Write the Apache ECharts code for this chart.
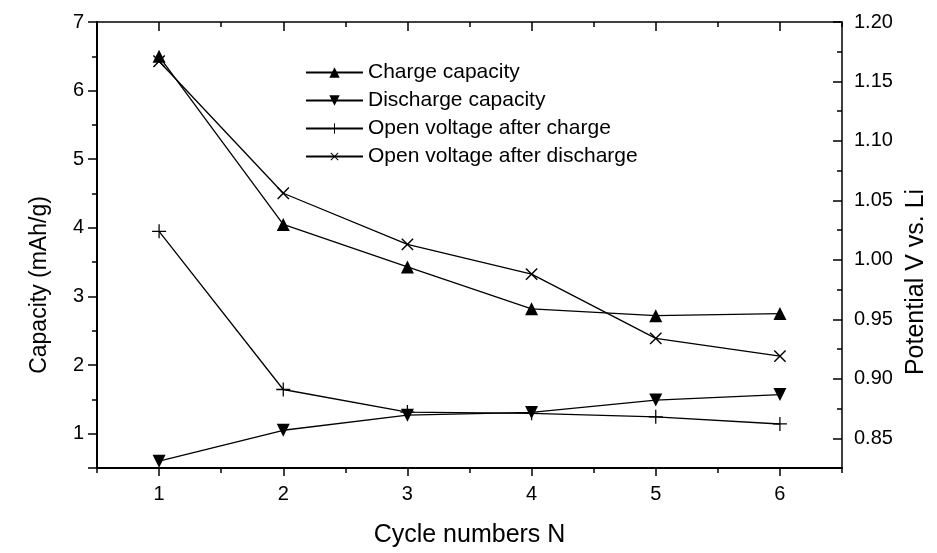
<!DOCTYPE html>
<html>
<head>
<meta charset="utf-8">
<script src="https://cdn.jsdelivr.net/npm/echarts@6/dist/echarts.min.js"></script>
<style>
  html, body { margin: 0; padding: 0; background: #ffffff; }
  #chart { width: 937px; height: 553px; }
</style>
</head>
<body>
<div id="chart"></div>
<script>
// ---- data ----
const cycles = [1, 2, 3, 4, 5, 6];
const chargeCapacity = [6.5, 4.05, 3.43, 2.82, 2.72, 2.75];
const dischargeCapacity = [0.6, 1.05, 1.27, 1.31, 1.49, 1.57];
const voltageAfterCharge = [1.024, 0.891, 0.872, 0.871, 0.868, 0.862];
const voltageAfterDischarge = [1.167, 1.056, 1.013, 0.988, 0.934, 0.919];
const seriesNames = ['Charge capacity', 'Discharge capacity', 'Open voltage after charge', 'Open voltage after discharge'];
const xTickLabels = ['1', '2', '3', '4', '5', '6'];
const leftTickLabels = ['7', '6', '5', '4', '3', '2', '1'];
const rightTickLabels = ['1.20', '1.15', '1.10', '1.05', '1.00', '0.95', '0.90', '0.85'];
const xAxisTitle = 'Cycle numbers N';
const leftAxisTitle = 'Capacity (mAh/g)';
const rightAxisTitle = 'Potential V vs. Li';

// ---- chart ----
const FONT = 'Liberation Sans, Arial, sans-serif';
const BLACK = '#000000';
const plusPath = 'path://M-0.09,-1L0.09,-1L0.09,1L-0.09,1ZM-1,-0.09L1,-0.09L1,0.09L-1,0.09Z';

function pairs(ys) { return cycles.map((c, i) => [c, ys[i]]); }
function labelFrom(list, step) {
  return function (v) {
    const k = Math.round(v / step);
    if (Math.abs(v - k * step) > 1e-6) return '';
    return list[k] !== undefined ? list[k] : '';
  };
}

const noLabel = { show: false };
const hidden = { show: false };

const chart = echarts.init(document.getElementById('chart'), null, { renderer: 'canvas' });
chart.setOption({
  backgroundColor: '#ffffff',
  animation: false,
  textStyle: { fontFamily: FONT, color: BLACK },
  grid: { left: 97, right: 86, top: 22, bottom: 75, containLabel: false },
  legend: {
    orient: 'vertical',
    left: 300,
    top: 57,
    itemWidth: 57,
    itemHeight: 13,
    itemGap: 7,
    data: seriesNames,
    textStyle: { fontFamily: FONT, fontSize: 21, color: BLACK },
    inactiveColor: '#000'
  },
  xAxis: [
    { // data axis, minor ticks (bottom)
      type: 'value', position: 'bottom', min: 0.5, max: 6.5, interval: 0.5,
      axisLine: { show: true, onZero: false, lineStyle: { color: BLACK, width: 2 } },
      axisTick: { show: true, inside: false, length: 5, lineStyle: { color: BLACK, width: 1.5 } },
      axisLabel: noLabel, splitLine: hidden
    },
    { // major ticks + labels (bottom)
      type: 'category', position: 'bottom', data: xTickLabels, boundaryGap: true,
      name: xAxisTitle, nameLocation: 'middle', nameGap: 55,
      nameTextStyle: { fontFamily: FONT, fontSize: 25, color: BLACK },
      axisLine: { show: false, onZero: false },
      axisTick: { show: true, alignWithLabel: true, inside: false, length: 8, lineStyle: { color: BLACK, width: 1.5 } },
      axisLabel: { show: true, margin: 16, fontFamily: FONT, fontSize: 20, color: BLACK },
      splitLine: hidden
    },
    { // top minor
      type: 'value', position: 'top', min: 0.5, max: 6.5, interval: 0.5,
      axisLine: { show: true, onZero: false, lineStyle: { color: BLACK, width: 1.5 } },
      axisTick: { show: true, inside: true, length: 5, lineStyle: { color: BLACK, width: 1.5 } },
      axisLabel: noLabel, splitLine: hidden
    },
    { // top major
      type: 'category', position: 'top', data: xTickLabels, boundaryGap: true,
      axisLine: { show: false, onZero: false },
      axisTick: { show: true, alignWithLabel: true, inside: true, length: 9, lineStyle: { color: BLACK, width: 1.5 } },
      axisLabel: noLabel, splitLine: hidden
    }
  ],
  yAxis: [
    { // left data axis, minor ticks
      type: 'value', position: 'left', min: 0.5, max: 7, interval: 0.5,
      axisLine: { show: true, onZero: false, lineStyle: { color: BLACK, width: 2 } },
      axisTick: { show: true, inside: false, length: 5, lineStyle: { color: BLACK, width: 1.5 } },
      axisLabel: noLabel, splitLine: hidden
    },
    { // left major ticks + labels (counted from the top)
      type: 'value', position: 'left', inverse: true, min: 0, max: 6.5, interval: 1,
      name: leftAxisTitle, nameLocation: 'middle', nameGap: 46,
      nameTextStyle: { fontFamily: FONT, fontSize: 23, color: BLACK, padding: [0, 80, 0, 0] },
      axisLine: { show: false, onZero: false },
      axisTick: { show: true, inside: false, length: 9, lineStyle: { color: BLACK, width: 1.5 } },
      axisLabel: { show: true, margin: 13, fontFamily: FONT, fontSize: 20, color: BLACK, formatter: labelFrom(leftTickLabels, 1) },
      splitLine: hidden
    },
    { // right data axis, minor ticks
      type: 'value', position: 'right', min: 0.825, max: 1.2, interval: 0.025,
      axisLine: { show: true, onZero: false, lineStyle: { color: BLACK, width: 1.5 } },
      axisTick: { show: true, inside: true, length: 5, lineStyle: { color: BLACK, width: 1.5 } },
      axisLabel: noLabel, splitLine: hidden
    },
    { // right major ticks + labels (counted from the top)
      type: 'value', position: 'right', inverse: true, min: 0, max: 0.375, interval: 0.05,
      name: rightAxisTitle, nameLocation: 'middle', nameGap: 62,
      nameTextStyle: { fontFamily: FONT, fontSize: 25, color: BLACK, padding: [0, 74, 0, 0] },
      axisLine: { show: false, onZero: false },
      axisTick: { show: true, inside: true, length: 9, lineStyle: { color: BLACK, width: 1.5 } },
      axisLabel: { show: true, margin: 12, fontFamily: FONT, fontSize: 20, color: BLACK, formatter: labelFrom(rightTickLabels, 0.05) },
      splitLine: hidden
    }
  ],
  series: [
    {
      name: seriesNames[0], type: 'line', xAxisIndex: 0, yAxisIndex: 0,
      data: pairs(chargeCapacity), symbol: 'triangle', symbolSize: 13,
      itemStyle: { color: BLACK }, lineStyle: { color: BLACK, width: 1.3 }
    },
    {
      name: seriesNames[1], type: 'line', xAxisIndex: 0, yAxisIndex: 0,
      data: pairs(dischargeCapacity), symbol: 'triangle', symbolRotate: 180, symbolSize: 13,
      itemStyle: { color: BLACK }, lineStyle: { color: BLACK, width: 1.3 }
    },
    {
      name: seriesNames[2], type: 'line', xAxisIndex: 0, yAxisIndex: 2,
      data: pairs(voltageAfterCharge), symbol: plusPath, symbolSize: 14,
      itemStyle: { color: BLACK }, lineStyle: { color: BLACK, width: 1.3 }
    },
    {
      name: seriesNames[3], type: 'line', xAxisIndex: 0, yAxisIndex: 2,
      data: pairs(voltageAfterDischarge), symbol: plusPath, symbolRotate: 45, symbolSize: 16,
      itemStyle: { color: BLACK }, lineStyle: { color: BLACK, width: 1.3 }
    }
  ]
});
</script>
</body>
</html>
